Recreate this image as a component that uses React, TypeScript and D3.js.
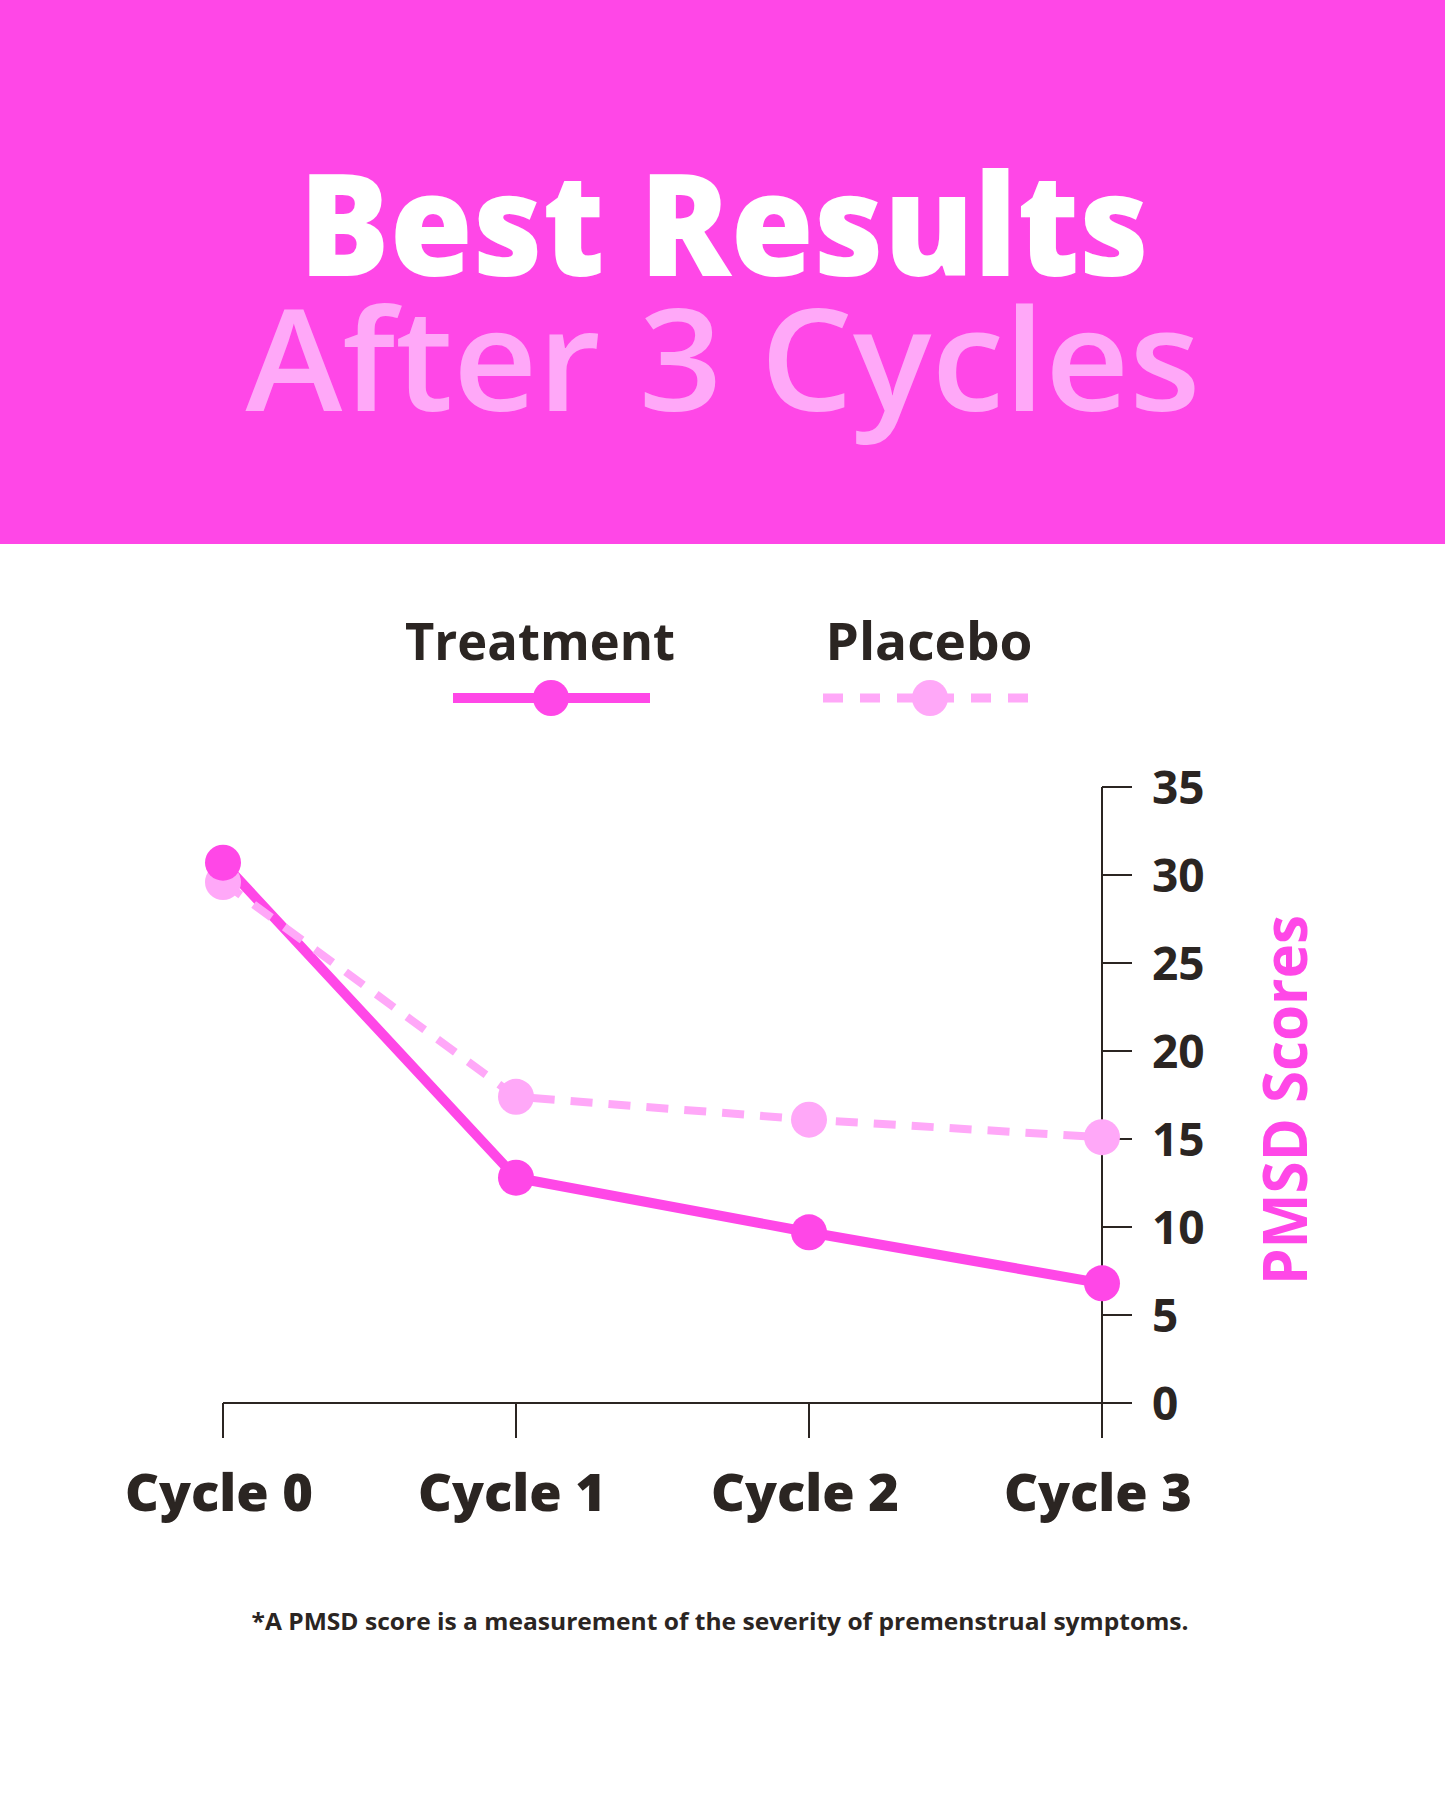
import React from "react";
import * as d3 from "d3";

const categories = ["Cycle 0", "Cycle 1", "Cycle 2", "Cycle 3"];
const treatment = [30.7, 12.8, 9.7, 6.8];
const placebo = [29.6, 17.4, 16.1, 15.1];
const yTicks = [0, 5, 10, 15, 20, 25, 30, 35];
const seriesNames = ["Treatment", "Placebo"];

const W = 1445;
const H = 1816;
const PINK = "#FF47E7";
const LIGHT = "#FFA8F8";
const DARK = "#2B2522";
const FONT = "'Open Sans', 'Noto Sans', sans-serif";

export default function App() {
  const x = d3.scalePoint<string>().domain(categories).range([223, 1102]);
  const y = d3.scaleLinear().domain([0, 35]).range([1403, 787]);
  const axisX = 1102;
  const y0 = y(0);

  const line = d3
    .line<number>()
    .x((_, i) => x(categories[i]) as number)
    .y((d) => y(d));

  return (
    <svg
      width={W}
      height={H}
      viewBox={`0 0 ${W} ${H}`}
      style={{ position: "absolute", left: 0, top: 0, display: "block", background: "#fff" }}
    >
      <rect x={0} y={0} width={W} height={544} fill={PINK} />
      <text
        x={724}
        y={276}
        textAnchor="middle"
        fontFamily={FONT}
        fontWeight={800}
        fontSize={142}
        fill="#ffffff"
        textLength={850}
        lengthAdjust="spacingAndGlyphs"
      >
        Best Results
      </text>
      <text
        x={723}
        y={411}
        textAnchor="middle"
        fontFamily={FONT}
        fontWeight={600}
        fontSize={141}
        fill={LIGHT}
        textLength={955}
        lengthAdjust="spacingAndGlyphs"
      >
        After 3 Cycles
      </text>

      {/* Legend */}
      <text x={540} y={660} textAnchor="middle" fontFamily={FONT} fontWeight={700} fontSize={52} fill={DARK} textLength={270} lengthAdjust="spacingAndGlyphs">
        {seriesNames[0]}
      </text>
      <line x1={453} x2={650} y1={698} y2={698} stroke={PINK} strokeWidth={10} />
      <circle cx={551} cy={698} r={18} fill={PINK} />
      <text x={929} y={660} textAnchor="middle" fontFamily={FONT} fontWeight={700} fontSize={52} fill={DARK} textLength={207} lengthAdjust="spacingAndGlyphs">
        {seriesNames[1]}
      </text>
      <line x1={823} x2={1028} y1={698} y2={698} stroke={LIGHT} strokeWidth={9} strokeDasharray="20 17" />
      <circle cx={930} cy={698} r={18} fill={LIGHT} />

      {/* Axes */}
      <line x1={axisX} x2={axisX} y1={y(35)} y2={1436} stroke={DARK} strokeWidth={2} />
      <line x1={x(categories[0])} x2={axisX + 30} y1={y0} y2={y0} stroke={DARK} strokeWidth={2} />
      {yTicks.map((t) => (
        <g key={t}>
          <line x1={axisX} x2={axisX + 30} y1={y(t)} y2={y(t)} stroke={DARK} strokeWidth={2} />
          <text
            x={axisX + 50}
            y={y(t)}
            dy="0.36em"
            fontFamily={FONT}
            fontWeight={700}
            fontSize={46}
            fill={DARK}
          >
            {t}
          </text>
        </g>
      ))}
      {categories.map((c) => (
        <g key={c}>
          <line x1={x(c)} x2={x(c)} y1={y0} y2={y0 + 35} stroke={DARK} strokeWidth={2} />
          <text
            x={(x(c) as number) - 4}
            y={1511}
            textAnchor="middle"
            fontFamily={FONT}
            fontWeight={800}
            fontSize={52}
            fill={DARK}
            textLength={188}
            lengthAdjust="spacingAndGlyphs"
          >
            {c}
          </text>
        </g>
      ))}
      <text
        transform={`translate(1307, 1100) rotate(-90)`}
        textAnchor="middle"
        fontFamily={FONT}
        fontWeight={700}
        fontSize={60}
        fill={PINK}
        textLength={370}
        lengthAdjust="spacingAndGlyphs"
      >
        PMSD Scores
      </text>

      {/* Lines */}
      <path d={line(treatment) ?? ""} fill="none" stroke={PINK} strokeWidth={10} strokeLinejoin="round" />
      <path d={line(placebo) ?? ""} fill="none" stroke={LIGHT} strokeWidth={8} strokeDasharray="22 16" />
      {placebo.map((v, i) => (
        <circle key={"p" + i} cx={x(categories[i])} cy={y(v)} r={18} fill={LIGHT} />
      ))}
      {treatment.map((v, i) => (
        <circle key={"t" + i} cx={x(categories[i])} cy={y(v)} r={18} fill={PINK} />
      ))}

      <text
        x={720}
        y={1630}
        textAnchor="middle"
        fontFamily={FONT}
        fontWeight={700}
        fontSize={24}
        fill={DARK}
        textLength={937}
        lengthAdjust="spacingAndGlyphs"
      >
        *A PMSD score is a measurement of the severity of premenstrual symptoms.
      </text>
    </svg>
  );
}
